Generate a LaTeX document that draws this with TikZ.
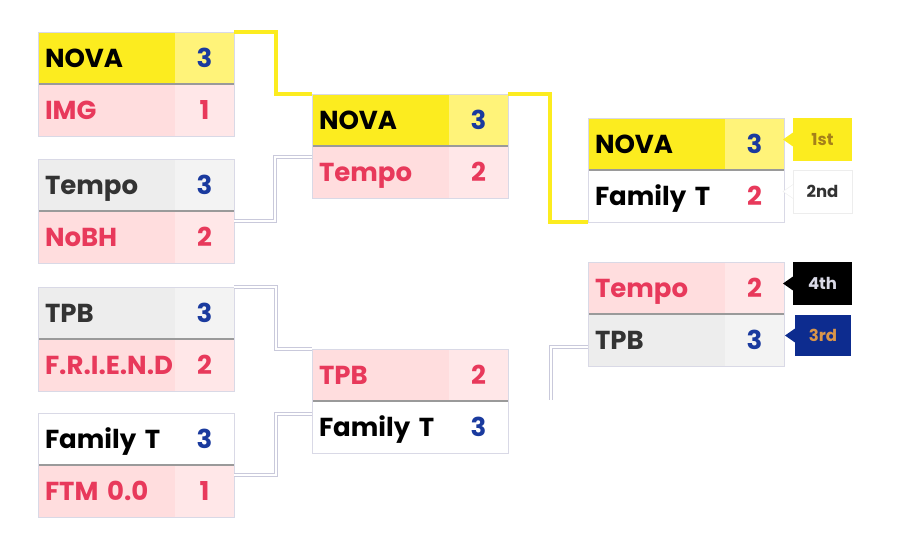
\documentclass[tikz,border=0pt]{standalone}
\usepackage{fontspec}
\setmainfont{Poppins}
\definecolor{yelA}{HTML}{FCEC1F}
\definecolor{yelB}{HTML}{FFF379}
\definecolor{pinkA}{HTML}{FFDDDE}
\definecolor{pinkB}{HTML}{FFE7E8}
\definecolor{grayA}{HTML}{EDEDED}
\definecolor{grayB}{HTML}{F3F3F3}
\definecolor{lossred}{HTML}{E8395B}
\definecolor{winblue}{HTML}{1A3A9E}
\definecolor{darktxt}{HTML}{333333}
\definecolor{boxgray}{HTML}{D9D9E6}
\definecolor{linkgray}{HTML}{C9C9DB}
\definecolor{sepgray}{HTML}{9A9A9A}
\definecolor{goldtxt}{HTML}{A5801A}
\definecolor{navy}{HTML}{0D2C8F}
\definecolor{bronze}{HTML}{D9954A}

% one team row: id, position, kind, name, score, score colour
\newcommand{\teamrow}[6]{%
  \node[namecell, #3name] (#1) at (#2) {\mbox{#4}};
  \node[scorecell, #3score, text=#6] (#1s) at (#1.north east) {#5};
}
% frame and divider of one match
\newcommand{\matchbox}[1]{%
  \draw[sepline] (#1a.south west) -- (#1as.south east);
  \draw[boxline] (#1a.north west) rectangle (#1bs.south east);
}

\begin{document}
\begin{tikzpicture}[x=1pt, y=-1pt,
  namecell/.style={anchor=north west, text width=123pt, align=left, inner xsep=7pt,
    inner ysep=0pt, outer sep=0pt, minimum height=52pt, text height=18.5pt, text depth=0pt,
    font=\fontsize{26}{30}\selectfont\bfseries},
  scorecell/.style={anchor=north west, minimum width=59pt, minimum height=52pt,
    inner sep=0pt, outer sep=0pt, text height=18.5pt, text depth=0pt,
    font=\fontsize{26}{30}\selectfont\bfseries},
  yelname/.style={fill=yelA, text=black}, yelscore/.style={fill=yelB},
  pinkname/.style={fill=pinkA, text=lossred}, pinkscore/.style={fill=pinkB},
  grayname/.style={fill=grayA, text=darktxt}, grayscore/.style={fill=grayB},
  whitename/.style={fill=white, text=black}, whitescore/.style={fill=white},
  sepline/.style={draw=sepgray, line width=1.8pt},
  boxline/.style={draw=boxgray, line width=0.8pt},
  link/.style={draw=linkgray, line width=0.9pt, double=white, double distance=2.2pt},
  winlink/.style={draw=gray!40, line width=0.5pt, double=yelA, double distance=3.4pt},
  badge/.style={anchor=north west, minimum width=59pt, minimum height=43pt,
    inner sep=0pt, outer sep=0pt, font=\fontsize{16.5}{18}\selectfont\bfseries}]
  \useasboundingbox (0,0) rectangle (902,536);

  % first round
  \teamrow{m1a}{38,32}{yel}{NOVA}{3}{winblue}
  \teamrow{m1b}{m1a.south west}{pink}{IMG}{1}{lossred}
  \matchbox{m1}
  \teamrow{m2a}{38,159}{gray}{Tempo}{3}{winblue}
  \teamrow{m2b}{m2a.south west}{pink}{NoBH}{2}{lossred}
  \matchbox{m2}
  \teamrow{m3a}{38,287}{gray}{TPB}{3}{winblue}
  \teamrow{m3b}{m3a.south west}{pink}{F.R.I.E.N.D}{2}{lossred}
  \matchbox{m3}
  \teamrow{m4a}{38,413}{white}{Family T}{3}{winblue}
  \teamrow{m4b}{m4a.south west}{pink}{FTM 0.0}{1}{lossred}
  \matchbox{m4}

  % semifinals
  \teamrow{m5a}{312,94}{yel}{NOVA}{3}{winblue}
  \teamrow{m5b}{m5a.south west}{pink}{Tempo}{2}{lossred}
  \matchbox{m5}
  \teamrow{m6a}{312,349}{pink}{TPB}{2}{lossred}
  \teamrow{m6b}{m6a.south west}{white}{Family T}{3}{winblue}
  \matchbox{m6}

  % final and third place
  \teamrow{fina}{588,118}{yel}{NOVA}{3}{winblue}
  \teamrow{finb}{fina.south west}{white}{Family T}{2}{lossred}
  \matchbox{fin}
  \teamrow{thra}{588,262}{pink}{Tempo}{2}{lossred}
  \teamrow{thrb}{thra.south west}{gray}{TPB}{3}{winblue}
  \matchbox{thr}

  % connectors
  \draw[winlink] (m1as.north east) -- ++(42,0) |- (m5a.north west);
  \draw[link] ([yshift=-10pt]m2bs.north east) -- ++(41,0) |- ([yshift=-11pt]m5b.north west);
  \draw[link] (m3as.north east) -- ++(42,0) |- (m6a.north west);
  \draw[link] ([yshift=-10pt]m4bs.north east) -- ++(42,0) |- ([yshift=-13pt]m6b.north west);
  \draw[winlink] (m5as.north east) -- ++(42,0) |- (finb.south west);
  \coordinate (thrfree) at (551,400);
  \draw[link] ([yshift=-33pt]thrb.north west) -- ++(-37,0) -- (thrfree);

  % placings
  \node[badge, fill=yelA, text=goldtxt] (b1) at (793,118) {1st};
  \fill[yelA] ([yshift=7pt]b1.west) -- ([xshift=-10pt]b1.west) -- ([yshift=-7pt]b1.west) -- cycle;
  \node[badge, fill=white, draw=grayA, text=darktxt] (b2) at (793,170) {2nd};
  \draw[fill=white, draw=grayA] ([yshift=7pt]b2.west) -- ([xshift=-10pt]b2.west) -- ([yshift=-7pt]b2.west);
  \node[badge, fill=black, text=boxgray] (b4) at (793,262) {4th};
  \fill[black] ([yshift=7pt]b4.west) -- ([xshift=-10pt]b4.west) -- ([yshift=-7pt]b4.west) -- cycle;
  \node[badge, fill=navy, text=bronze, minimum width=56pt, minimum height=41pt] (b3) at (795,315) {3rd};
  \fill[navy] ([yshift=7pt]b3.west) -- ([xshift=-10pt]b3.west) -- ([yshift=-7pt]b3.west) -- cycle;
\end{tikzpicture}
\end{document}
